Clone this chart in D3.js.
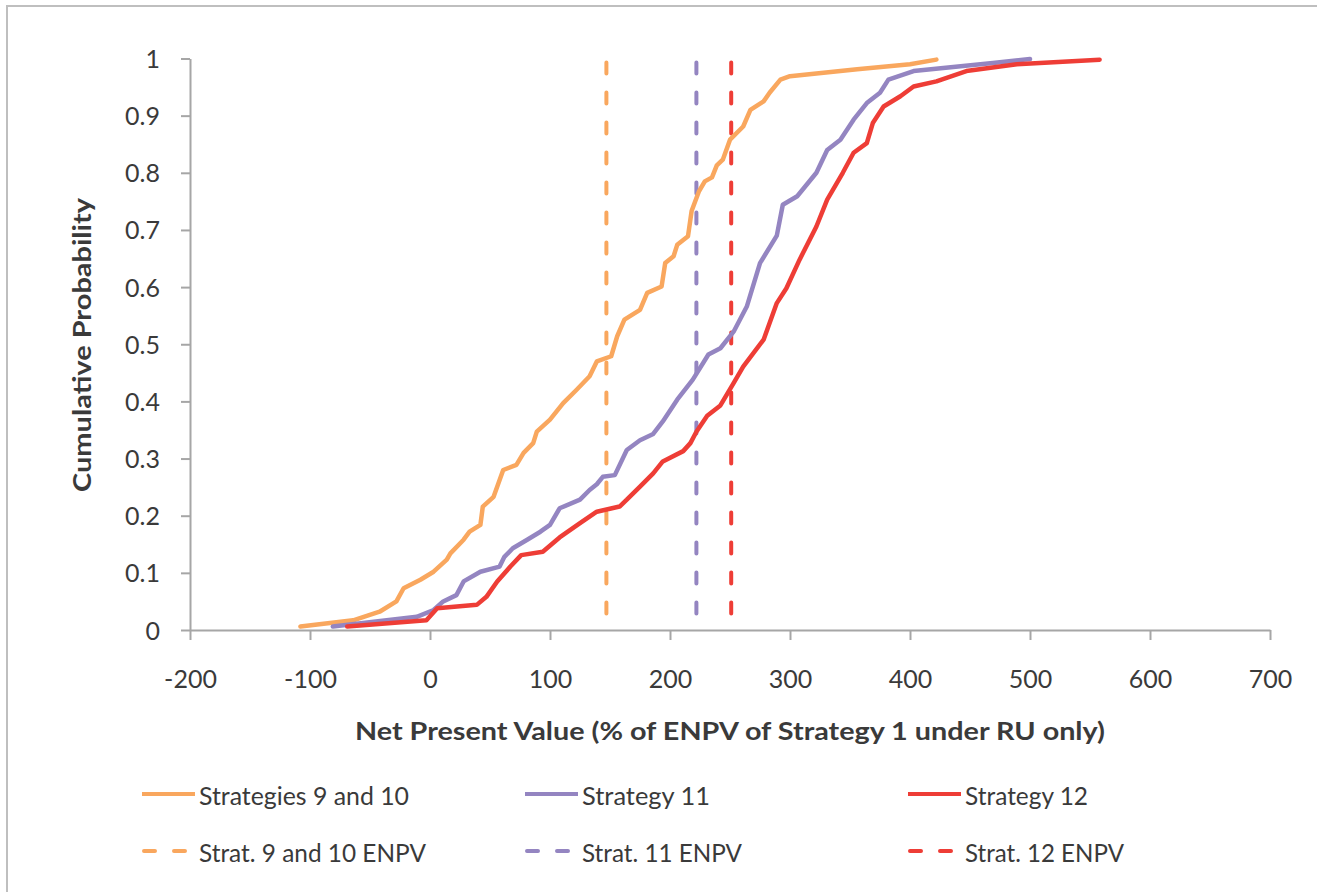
<!DOCTYPE html>
<html>
<head>
<meta charset="utf-8">
<script src="https://cdn.jsdelivr.net/npm/d3@7"></script>
<style>
  body { margin: 0; background: #fff; }
  svg { display: block; font-family: Lato, "Open Sans", sans-serif; }
</style>
</head>
<body>
<div id="chart"></div>
<script>
// cumulative distribution
const strat910X = [-108, -64, -42, -28, -22, -8, 3, 14, 17, 28, 33, 42, 44, 53, 61, 72, 78, 86, 89, 100, 111, 122, 133, 139, 151, 156, 162, 175, 181, 193, 196, 203, 206, 215, 218, 224, 229, 235, 239, 244, 250, 261, 267, 278, 283, 292, 300, 356, 400, 422];
const strat910P = [0.006, 0.017, 0.032, 0.05, 0.073, 0.088, 0.102, 0.123, 0.134, 0.158, 0.172, 0.184, 0.216, 0.233, 0.28, 0.289, 0.31, 0.327, 0.347, 0.368, 0.397, 0.42, 0.444, 0.47, 0.479, 0.514, 0.543, 0.56, 0.59, 0.601, 0.642, 0.654, 0.674, 0.689, 0.733, 0.767, 0.785, 0.792, 0.813, 0.823, 0.858, 0.881, 0.91, 0.925, 0.94, 0.963, 0.969, 0.981, 0.99, 0.998];

const strat11X = [-81, -11, 3, 11, 22, 28, 42, 58, 62, 69, 81, 92, 100, 108, 125, 133, 139, 144, 154, 164, 175, 186, 194, 206, 219, 232, 242, 253, 264, 275, 289, 294, 306, 322, 331, 342, 353, 364, 375, 382, 403, 469, 500];
const strat11P = [0.006, 0.023, 0.035, 0.05, 0.061, 0.085, 0.102, 0.111, 0.128, 0.143, 0.158, 0.172, 0.184, 0.213, 0.228, 0.245, 0.255, 0.268, 0.271, 0.315, 0.332, 0.343, 0.365, 0.403, 0.438, 0.482, 0.493, 0.522, 0.566, 0.642, 0.69, 0.744, 0.759, 0.8, 0.84, 0.858, 0.893, 0.922, 0.94, 0.963, 0.978, 0.992, 0.999];

const strat12X = [-69, -3, 6, 39, 47, 56, 67, 76, 94, 108, 125, 139, 158, 164, 175, 186, 194, 211, 217, 222, 231, 242, 253, 261, 278, 289, 297, 308, 322, 331, 344, 353, 364, 369, 378, 392, 403, 422, 447, 489, 558];
const strat12P = [0.006, 0.017, 0.038, 0.044, 0.058, 0.085, 0.111, 0.131, 0.137, 0.162, 0.187, 0.207, 0.216, 0.228, 0.251, 0.274, 0.295, 0.313, 0.327, 0.347, 0.375, 0.393, 0.432, 0.461, 0.508, 0.572, 0.598, 0.648, 0.706, 0.753, 0.8, 0.835, 0.852, 0.887, 0.916, 0.934, 0.951, 0.96, 0.978, 0.99, 0.998];

const seriesNames = ["Strategies 9 and 10", "Strategy 11", "Strategy 12"];
const enpvNames = ["Strat. 9 and 10 ENPV", "Strat. 11 ENPV", "Strat. 12 ENPV"];
const enpvValues = [147, 222, 251];

const xTicks = [-200, -100, 0, 100, 200, 300, 400, 500, 600, 700];
const yTicks = [0, 0.1, 0.2, 0.3, 0.4, 0.5, 0.6, 0.7, 0.8, 0.9, 1];

const colors = ["#F9A75E", "#9485C1", "#EE3D36"];
const textColor = "#3A3A3A";
const axisColor = "#A6A6A6";

const width = 1317, height = 892;

const svg = d3.select("#chart").append("svg")
    .attr("width", width)
    .attr("height", height);

svg.append("rect").attr("width", width).attr("height", height).attr("fill", "#fff");

// outer chart border (only top and left edges are visible)
svg.append("rect")
    .attr("x", 7).attr("y", 6)
    .attr("width", width + 20).attr("height", height + 20)
    .attr("fill", "none")
    .attr("stroke", "#BFBFBF")
    .attr("stroke-width", 2);

const x = d3.scaleLinear().domain([-200, 700]).range([190, 1270]);
const y = d3.scaleLinear().domain([0, 1]).range([630, 58.5]);

// plain hyphen for negatives, like the original
const fmt = d => (d < 0 ? "-" : "") + d3.format("~g")(Math.abs(d));

// axes
const xAxis = svg.append("g")
    .attr("transform", `translate(0,${y(0)})`)
    .call(d3.axisBottom(x).tickValues(xTicks).tickFormat(fmt).tickSize(10).tickSizeOuter(0));

const yAxis = svg.append("g")
    .attr("transform", `translate(${x(-200)},0)`)
    .call(d3.axisLeft(y).tickValues(yTicks).tickFormat(fmt).tickSize(9).tickSizeOuter(0));

[xAxis, yAxis].forEach(g => {
    g.select(".domain").attr("stroke", axisColor).attr("stroke-width", 2);
    g.selectAll(".tick line").attr("stroke", axisColor).attr("stroke-width", 2);
    g.selectAll(".tick text")
        .attr("fill", textColor)
        .style("font-size", "25px")
        .style("font-family", "Lato, sans-serif");
});

xAxis.selectAll(".tick text").attr("y", 58).attr("dy", 0);
yAxis.selectAll(".tick text").attr("x", -30).attr("dy", "0.36em");

// curves
const line = d3.line().x(d => x(d[0])).y(d => y(d[1]));
const curves = [
    d3.zip(strat910X, strat910P),
    d3.zip(strat11X, strat11P),
    d3.zip(strat12X, strat12P)
];

// ENPV verticals
svg.selectAll(".enpv")
    .data(enpvValues)
    .join("line")
    .attr("class", "enpv")
    .attr("x1", d => x(d)).attr("x2", d => x(d))
    .attr("y1", y(1) + 4).attr("y2", y(0))
    .attr("stroke", (d, i) => colors[i])
    .attr("stroke-width", 4)
    .attr("stroke-linecap", "round")
    .attr("stroke-dasharray", "11,19");

svg.selectAll(".cdf")
    .data(curves)
    .join("path")
    .attr("class", "cdf")
    .attr("d", line)
    .attr("fill", "none")
    .attr("stroke", (d, i) => colors[i])
    .attr("stroke-width", 4.5)
    .attr("stroke-linejoin", "round")
    .attr("stroke-linecap", "round");

// axis titles
svg.append("text")
    .attr("x", 730).attr("y", 740)
    .attr("text-anchor", "middle")
    .attr("fill", textColor)
    .style("font-size", "25px")
    .style("font-weight", "bold")
    .attr("textLength", 750)
    .attr("lengthAdjust", "spacingAndGlyphs")
    .text("Net Present Value (% of ENPV of Strategy 1 under RU only)");

svg.append("text")
    .attr("transform", "translate(91,345) rotate(-90)")
    .attr("text-anchor", "middle")
    .attr("fill", textColor)
    .style("font-size", "25px")
    .style("font-weight", "bold")
    .attr("textLength", 294)
    .attr("lengthAdjust", "spacingAndGlyphs")
    .text("Cumulative Probability");

// legend
const legendX = [142, 525, 908];
const legendRows = [
    { names: seriesNames, dashed: false, ly: 794, widths: [210, 128, 123] },
    { names: enpvNames, dashed: true, ly: 851, widths: [227, 160, 159] }
];

legendRows.forEach(row => {
    row.names.forEach((name, i) => {
        const g = svg.append("g").attr("transform", `translate(${legendX[i]},${row.ly})`);
        g.append("line")
            .attr("x1", row.dashed ? 2 : 0).attr("x2", row.dashed ? 50 : 53)
            .attr("stroke", colors[i])
            .attr("stroke-width", 4)
            .attr("stroke-linecap", row.dashed ? "round" : "butt")
            .attr("stroke-dasharray", row.dashed ? "11,19" : null);
        g.append("text")
            .attr("x", 57).attr("y", 11)
            .attr("fill", textColor)
            .style("font-size", "25px")
            .attr("textLength", row.widths[i])
            .attr("lengthAdjust", "spacingAndGlyphs")
            .text(name);
    });
});
</script>
</body>
</html>
